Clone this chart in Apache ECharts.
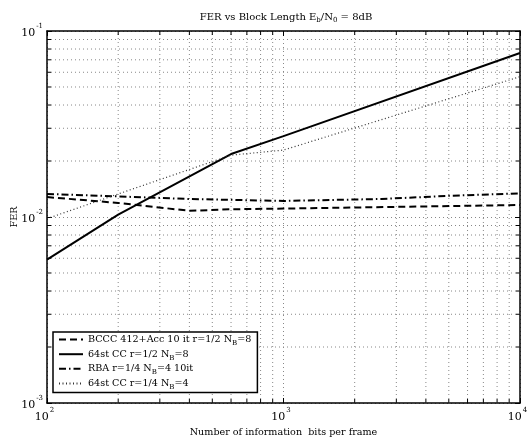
<!DOCTYPE html>
<html>
<head>
<meta charset="utf-8">
<script src="https://cdn.jsdelivr.net/npm/echarts@6/dist/echarts.min.js"></script>
<style>
  html, body { margin: 0; padding: 0; background: #fff; }
  #chart { width: 528px; height: 437px; }
</style>
</head>
<body>
<div id="chart"></div>
<script>
// data
var bcccX = [100, 200, 400, 600, 1000, 10000];
var bcccY = [0.0128, 0.0119, 0.0108, 0.0110, 0.0111, 0.0116];

var cc8X = [100, 200, 600, 1000, 10000];
var cc8Y = [0.0059, 0.0103, 0.0218, 0.0272, 0.0762];

var rbaX = [100, 200, 400, 1000, 2600, 5000, 10000];
var rbaY = [0.0133, 0.0129, 0.0125, 0.0122, 0.0125, 0.0130, 0.0134];

var cc4X = [100, 200, 600, 1000, 10000];
var cc4Y = [0.0098, 0.0133, 0.0215, 0.0229, 0.0568];

// minor grid / tick values of the log axes
var xMinor = [200, 300, 400, 500, 600, 700, 800, 900, 2000, 3000, 4000, 5000, 6000, 7000, 8000, 9000];
var yMinor = [0.002, 0.003, 0.004, 0.005, 0.006, 0.007, 0.008, 0.009, 0.02, 0.03, 0.04, 0.05, 0.06, 0.07, 0.08, 0.09];

var names = [
  'BCCC 412+Acc 10 it r=1/2 NB=8',
  '64st CC r=1/2 NB=8',
  'RBA r=1/4 NB=4 10it',
  '64st CC r=1/4 NB=4'
];

var FONT = 'DejaVu Serif';
var X_MIN = 100, X_MAX = 10000, Y_MIN = 0.001, Y_MAX = 0.1;

function pairs(xs, ys) {
  return xs.map(function (x, i) { return [x, ys[i]]; });
}

function richText(size) {
  return {
    t: { fontFamily: FONT, fontSize: size, fontWeight: 'normal', color: '#000', lineHeight: 14 },
    sub: { fontFamily: FONT, fontSize: 7, fontWeight: 'normal', color: '#000', lineHeight: 8, verticalAlign: 'bottom', padding: [4, 0, 0, 0] }
  };
}

var powRich = {
  b: { fontFamily: FONT, fontSize: 11, color: '#000', lineHeight: 16, verticalAlign: 'bottom' },
  s: { fontFamily: FONT, fontSize: 7, color: '#000', lineHeight: 8, verticalAlign: 'top', padding: [0, 0, 5, 1] }
};

function powLabel(v) {
  return '{b|10}{s|' + Math.round(Math.log10(v)) + '}';
}

var chart = echarts.init(document.getElementById('chart'));

var gridDot = { color: '#888', width: 1, type: [1, 3] };

var option = {
  animation: false,
  backgroundColor: '#fff',
  title: {
    text: '{t|FER vs Block Length E}{sub|b}{t|/N}{sub|0}{t| = 8dB}',
    left: 281,
    textAlign: 'center',
    top: 5,
    textStyle: { fontWeight: 'normal', rich: richText(10) }
  },
  grid: { left: 47, right: 8, top: 31, bottom: 34, outerBoundsMode: 'none', containLabel: false },
  legend: {
    orient: 'vertical',
    left: 53,
    top: 332,
    padding: [2, 6, 2, 5],
    itemGap: 2,
    itemWidth: 24,
    itemHeight: 14,
    itemStyle: { opacity: 0 },
    backgroundColor: '#fff',
    borderColor: '#000',
    borderWidth: 1.5,
    data: names,
    formatter: function (name) {
      return '{t|' + name.replace('NB', 'N}{sub|B}{t|') + '}';
    },
    textStyle: { rich: richText(9.6), padding: [0, 0, 0, 0] }
  },
  xAxis: [{
    type: 'log',
    logBase: 10,
    min: X_MIN,
    max: X_MAX,
    name: 'Number of information  bits per frame',
    nameLocation: 'middle',
    nameGap: 24,
    nameMoveOverlap: false,
    nameTextStyle: { fontFamily: FONT, fontSize: 9.6, color: '#000' },
    axisLine: { onZero: false, lineStyle: { color: '#000', width: 1.5 } },
    axisTick: { inside: true, length: 5, lineStyle: { color: '#000' } },
    axisLabel: { formatter: powLabel, rich: powRich, margin: 4, padding: [0, 5, 0, 0] },
    splitLine: { show: true, lineStyle: gridDot }
  }, {
    type: 'log',
    logBase: 10,
    min: X_MIN,
    max: X_MAX,
    position: 'top',
    axisLine: { onZero: false, lineStyle: { color: '#000', width: 1.5 } },
    axisTick: { inside: true, length: 5, lineStyle: { color: '#000' } },
    axisLabel: { show: false },
    splitLine: { show: false }
  }],
  yAxis: [{
    type: 'log',
    logBase: 10,
    min: Y_MIN,
    max: Y_MAX,
    name: 'FER',
    nameLocation: 'middle',
    nameGap: 28,
    nameMoveOverlap: false,
    nameTextStyle: { fontFamily: FONT, fontSize: 9.6, color: '#000' },
    axisLine: { show: true, onZero: false, lineStyle: { color: '#000', width: 1.5 } },
    axisTick: { show: true, inside: true, length: 5, lineStyle: { color: '#000' } },
    axisLabel: { formatter: powLabel, rich: powRich, margin: 4 },
    splitLine: { show: true, lineStyle: gridDot }
  }, {
    type: 'log',
    logBase: 10,
    min: Y_MIN,
    max: Y_MAX,
    position: 'right',
    axisLine: { show: true, onZero: false, lineStyle: { color: '#000', width: 1.5 } },
    axisTick: { show: true, inside: true, length: 5, lineStyle: { color: '#000' } },
    axisLabel: { show: false },
    splitLine: { show: false }
  }],
  series: [
    {
      // minor vertical grid lines + ticks
      type: 'custom',
      silent: true,
      z: 1,
      data: xMinor.map(function (v) { return [v, 0.01]; }),
      renderItem: function (params, api) {
        var v = api.value(0);
        var b = api.coord([v, Y_MIN]);
        var t = api.coord([v, Y_MAX]);
        return {
          type: 'group',
          children: [
            { type: 'line', shape: { x1: b[0], y1: b[1], x2: t[0], y2: t[1] }, style: { stroke: '#888', lineWidth: 1, lineDash: [1, 3] } },
            { type: 'line', shape: { x1: b[0], y1: b[1], x2: b[0], y2: b[1] - 4 }, style: { stroke: '#000', lineWidth: 1 } },
            { type: 'line', shape: { x1: t[0], y1: t[1], x2: t[0], y2: t[1] + 4 }, style: { stroke: '#000', lineWidth: 1 } }
          ]
        };
      }
    },
    {
      // minor horizontal grid lines + ticks
      type: 'custom',
      silent: true,
      z: 1,
      data: yMinor.map(function (v) { return [1000, v]; }),
      renderItem: function (params, api) {
        var v = api.value(1);
        var l = api.coord([X_MIN, v]);
        var r = api.coord([X_MAX, v]);
        return {
          type: 'group',
          children: [
            { type: 'line', shape: { x1: l[0], y1: l[1], x2: r[0], y2: r[1] }, style: { stroke: '#888', lineWidth: 1, lineDash: [1, 3] } },
            { type: 'line', shape: { x1: l[0], y1: l[1], x2: l[0] + 4, y2: l[1] }, style: { stroke: '#000', lineWidth: 1 } },
            { type: 'line', shape: { x1: r[0], y1: r[1], x2: r[0] - 4, y2: r[1] }, style: { stroke: '#000', lineWidth: 1 } }
          ]
        };
      }
    },
    {
      name: names[0],
      type: 'line',
      z: 3,
      symbol: 'none',
      data: pairs(bcccX, bcccY),
      lineStyle: { color: '#000', width: 2, type: [7, 4] },
      itemStyle: { color: '#000' }
    },
    {
      name: names[1],
      type: 'line',
      z: 3,
      symbol: 'none',
      data: pairs(cc8X, cc8Y),
      lineStyle: { color: '#000', width: 2, type: 'solid' },
      itemStyle: { color: '#000' }
    },
    {
      name: names[2],
      type: 'line',
      z: 3,
      symbol: 'none',
      data: pairs(rbaX, rbaY),
      lineStyle: { color: '#000', width: 2, type: [7, 3, 1.5, 3] },
      itemStyle: { color: '#000' }
    },
    {
      name: names[3],
      type: 'line',
      z: 3,
      symbol: 'none',
      data: pairs(cc4X, cc4Y),
      lineStyle: { color: '#333', width: 1.2, type: [1, 2.5] },
      itemStyle: { color: '#333' }
    }
  ]
};

chart.setOption(option);
window.addEventListener('resize', function () {
  chart.resize();
});
</script>
</body>
</html>
